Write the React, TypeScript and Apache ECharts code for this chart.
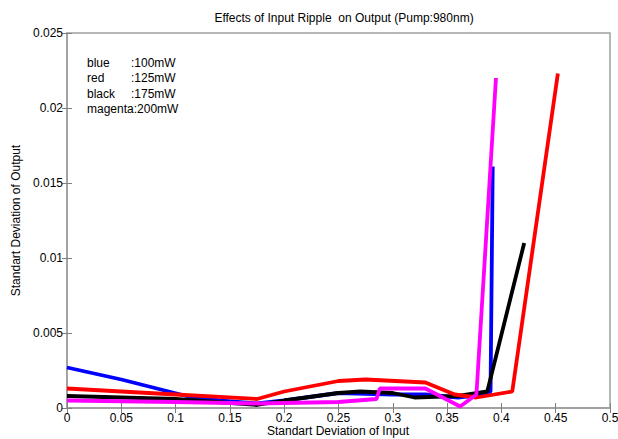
import React, { useEffect, useRef } from "react";
import * as echarts from "echarts";

const title = "Effects of Input Ripple  on Output (Pump:980nm)";
const xName = "Standart Deviation of Input";
const yName = "Standart Deviation of Output";

const blueX = [0, 0.05, 0.11, 0.14, 0.175, 0.2, 0.25, 0.3, 0.33, 0.36, 0.385, 0.39, 0.392];
const blueY = [0.0027, 0.0019, 0.0008, 0.0005, 0.0003, 0.0005, 0.001, 0.0009, 0.0009, 0.0007, 0.0009, 0.0011, 0.0161];

const redX = [0, 0.1, 0.175, 0.2, 0.25, 0.275, 0.33, 0.357, 0.377, 0.41, 0.452];
const redY = [0.0013, 0.0009, 0.0006, 0.0011, 0.0018, 0.0019, 0.0017, 0.0009, 0.0007, 0.0011, 0.0223];

const blackX = [0, 0.1, 0.175, 0.2, 0.25, 0.27, 0.3, 0.32, 0.36, 0.387, 0.421];
const blackY = [0.0008, 0.0006, 0.0002, 0.0005, 0.001, 0.0011, 0.001, 0.0007, 0.0008, 0.0011, 0.011];

const magentaX = [0, 0.1, 0.175, 0.25, 0.285, 0.288, 0.33, 0.362, 0.377, 0.395];
const magentaY = [0.0005, 0.0004, 0.0003, 0.0004, 0.0006, 0.0013, 0.0013, 0.0001, 0.0009, 0.022];

const legendNames = ["blue", "red", "black", "magenta"];
const legendValues = [":100mW", ":125mW", ":175mW", ":200mW"];

const zip = (xs: number[], ys: number[]) => xs.map((x, i) => [x, ys[i]]);

const FONT = "Liberation Sans, Arial, sans-serif";

export default function App() {
  const ref = useRef<HTMLDivElement>(null);
  useEffect(() => {
    const chart = echarts.init(ref.current!, null, { renderer: "svg" });
    const fmt = (v: number) => String(+v.toFixed(4));
    const axisLine = { show: true, lineStyle: { color: "#a0a0a0", width: 1.5 } };
    const tick = { show: true, inside: true, length: 5, lineStyle: { color: "#808080" } };
    const mk = (name: string, color: string, xs: number[], ys: number[]) => ({
      type: "line",
      name,
      data: zip(xs, ys),
      symbol: "none",
      lineStyle: { color, width: 3.8 },
      itemStyle: { color },
      z: 2,
    });
    const graphics: any[] = [];
    legendNames.forEach((n, i) => {
      const y = 57 + i * 15.3;
      if (n === "magenta") {
        graphics.push({ type: "text", left: 87, top: y, style: { text: n + legendValues[i], fill: "#000", font: `12px ${FONT}` } });
      } else {
        graphics.push({ type: "text", left: 87, top: y, style: { text: n, fill: "#000", font: `12px ${FONT}` } });
        graphics.push({ type: "text", left: 131, top: y, style: { text: legendValues[i], fill: "#000", font: `12px ${FONT}` } });
      }
    });
    graphics.push({
      type: "text",
      x: 338,
      y: 431,
      style: { text: xName, fill: "#000", font: `12px ${FONT}`, align: "center", verticalAlign: "middle" },
    });
    chart.setOption({
      animation: false,
      backgroundColor: "#fff",
      title: {
        text: title,
        left: 339,
        textAlign: "center",
        top: 7,
        textStyle: { fontSize: 12, fontWeight: "normal", color: "#000", fontFamily: FONT },
      },
      grid: {
        left: 67,
        right: 8,
        top: 33,
        bottom: 31,
        show: true,
        borderColor: "#a0a0a0",
        borderWidth: 1.5,
        containLabel: false,
        outerBoundsMode: "none",
      },
      xAxis: [
        {
          type: "value",
          min: 0,
          max: 0.5,
          interval: 0.05,
          axisLine,
          axisTick: tick,
          splitLine: { show: false },
          axisLabel: { formatter: fmt, fontSize: 12, color: "#000", fontFamily: FONT, margin: 4 },
        },
        {
          type: "value",
          position: "top",
          min: 0,
          max: 0.5,
          interval: 0.05,
          axisLine,
          axisTick: tick,
          splitLine: { show: false },
          axisLabel: { show: false },
        },
      ],
      yAxis: [
        {
          type: "value",
          min: 0,
          max: 0.025,
          interval: 0.005,
          name: yName,
          nameLocation: "middle",
          nameGap: 45,
          nameTextStyle: { fontSize: 12, color: "#000", fontFamily: FONT },
          axisLine,
          axisTick: tick,
          splitLine: { show: false },
          axisLabel: { formatter: fmt, fontSize: 12, color: "#000", fontFamily: FONT, margin: 4 },
        },
        {
          type: "value",
          position: "right",
          min: 0,
          max: 0.025,
          interval: 0.005,
          axisLine,
          axisTick: tick,
          splitLine: { show: false },
          axisLabel: { show: false },
        },
      ],
      series: [
        mk("blue", "#0000ff", blueX, blueY),
        mk("black", "#000000", blackX, blackY),
        mk("red", "#ff0000", redX, redY),
        mk("magenta", "#ff00ff", magentaX, magentaY),
      ],
      graphic: graphics,
    });
    return () => chart.dispose();
  }, []);
  return <div ref={ref} style={{ width: 618, height: 439, position: "absolute", left: 0, top: 0 }} />;
}
